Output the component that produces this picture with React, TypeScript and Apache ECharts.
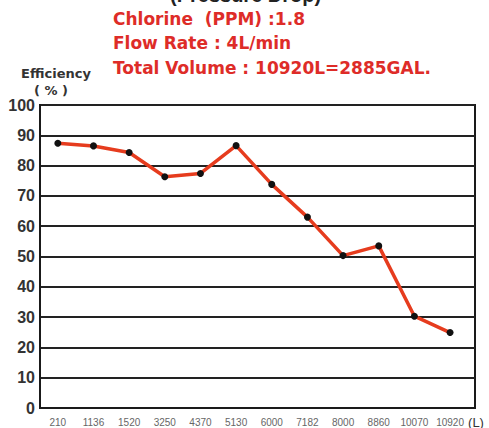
import React, { useEffect, useRef } from "react";
import * as echarts from "echarts";

const volumes = ["210", "1136", "1520", "3250", "4370", "5130", "6000", "7182", "8000", "8860", "10070", "10920"];
const efficiency = [87.4, 86.5, 84.3, 76.3, 77.4, 86.6, 73.8, 63.0, 50.3, 53.5, 30.3, 24.9];
const yTicks = [0, 10, 20, 30, 40, 50, 60, 70, 80, 90, 100];
const infoLines = ["Chlorine  (PPM) :1.8", "Flow Rate : 4L/min", "Total Volume : 10920L=2885GAL."];

const NARROW = "'Liberation Sans Narrow', 'Liberation Sans', Arial, sans-serif";
const SANS = "'Liberation Sans', Arial, sans-serif";
const WIDE = "'DejaVu Sans', 'Liberation Sans', sans-serif";

export default function App() {
  const ref = useRef<HTMLDivElement>(null);
  useEffect(() => {
    document.body.style.margin = "0";
    const chart = echarts.init(ref.current!, null, { renderer: "svg" });
    const red = "#de2c28";
    chart.setOption({
      animation: false,
      backgroundColor: "#ffffff",
      grid: { left: 40, top: 105, width: 435, height: 303, show: true, borderColor: "#1a1a1a", borderWidth: 2, containLabel: false },
      xAxis: {
        type: "value",
        min: -0.5,
        max: 11.7,
        splitLine: { show: false },
        axisTick: { show: false },
        axisLine: { onZero: false, lineStyle: { color: "#1a1a1a", width: 2 } },
        axisLabel: {
          customValues: volumes.map((_, i) => i),
          formatter: (v: number) => volumes[Math.round(v)] ?? "",
          color: "#666",
          fontSize: 10,
          fontFamily: NARROW,
          margin: 9,
        },
      },
      yAxis: {
        type: "value",
        min: 0,
        max: 100,
        interval: 10,
        axisLine: { show: true, onZero: false, lineStyle: { color: "#1a1a1a", width: 2 } },
        axisTick: { show: false },
        splitLine: { lineStyle: { color: "#222", width: 2 } },
        axisLabel: {
          customValues: yTicks,
          color: "#333",
          fontSize: 16,
          fontWeight: "bold",
          fontFamily: NARROW,
          margin: 5,
        },
      },
      series: [
        {
          type: "line",
          data: efficiency.map((v, i) => [i, v]),
          symbol: "circle",
          symbolSize: 7,
          itemStyle: { color: "#111" },
          lineStyle: { color: "#e63c1e", width: 3.5 },
          z: 3,
        },
      ],
      graphic: [
        {
          type: "text",
          left: 170,
          top: -15,
          style: { text: "(Pressure Drop)", font: `bold 20px ${SANS}`, fill: "#222" },
        },
        ...infoLines.map((t, i) => ({
          type: "text",
          x: 113,
          y: 18.5 + i * 24.5,
          style: { text: t, font: `bold 17px ${WIDE}`, fill: red, verticalAlign: "middle" },
        })),
        {
          type: "text",
          x: 56,
          y: 73,
          style: { text: "Efficiency", font: `bold 13px ${WIDE}`, fill: "#333", align: "center", verticalAlign: "middle" },
        },
        {
          type: "text",
          x: 51,
          y: 90,
          style: { text: "( % )", font: `bold 13px ${WIDE}`, fill: "#333", align: "center", verticalAlign: "middle" },
        },
        {
          type: "text",
          x: 476,
          y: 422,
          style: { text: "(L)", font: `13px ${SANS}`, fill: "#333", align: "center", verticalAlign: "middle" },
        },
      ],
    });
    return () => chart.dispose();
  }, []);
  return <div ref={ref} style={{ width: 489, height: 428 }} />;
}
